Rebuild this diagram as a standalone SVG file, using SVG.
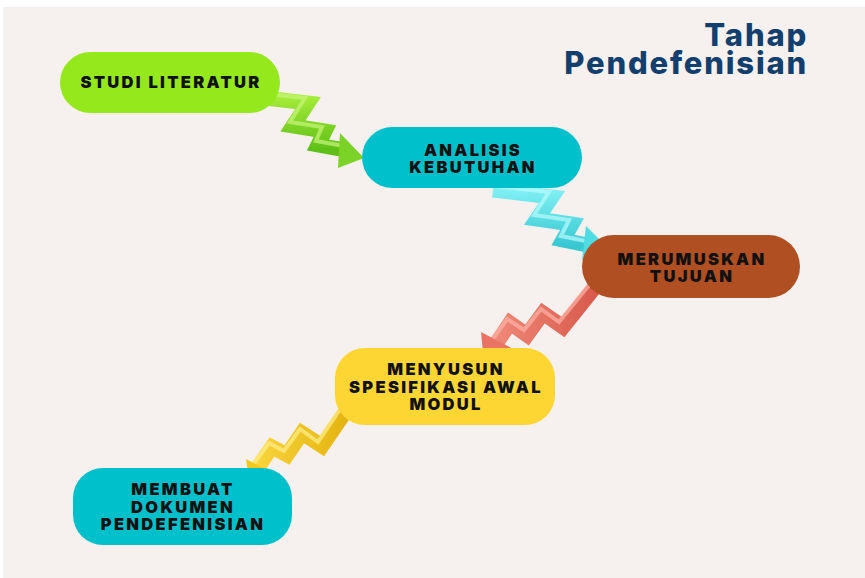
<svg xmlns="http://www.w3.org/2000/svg" width="865" height="578" viewBox="0 0 865 578">
<style>
.lbl{font-family:Inter,"Open Sans","Liberation Sans",sans-serif;font-weight:900;font-size:16.5px;letter-spacing:2.3px;fill:#111;text-anchor:middle}
.title{font-family:Inter,"Open Sans","Liberation Sans",sans-serif;font-weight:800;font-size:31px;letter-spacing:1.8px;fill:#123f6d;text-anchor:end}
.band{fill:none;stroke-width:15;stroke-linejoin:miter;stroke-linecap:butt}
.hl{fill:none;stroke-width:4;stroke-linejoin:miter;opacity:0.7}
</style>
<defs>
<linearGradient id="gG" x1="0" y1="0" x2="0" y2="1"><stop offset="0" stop-color="#a6ec3a"/><stop offset="1" stop-color="#5fbf17"/></linearGradient>
<linearGradient id="gC" x1="0" y1="0" x2="0" y2="1"><stop offset="0" stop-color="#7ff0f3"/><stop offset="1" stop-color="#38c8d2"/></linearGradient>
<linearGradient id="gR" x1="0" y1="0" x2="1" y2="0"><stop offset="0" stop-color="#f08a7a"/><stop offset="1" stop-color="#d85a4c"/></linearGradient>
<linearGradient id="gY" x1="0" y1="0" x2="1" y2="0"><stop offset="0" stop-color="#f9d43c"/><stop offset="1" stop-color="#e3b410"/></linearGradient>
</defs>
<rect x="0" y="0" width="865" height="578" fill="#ffffff"/>
<rect x="3" y="7" width="862" height="571" fill="#f6f1ee"/>

<g id="title">
<text class="title" x="808" y="46">Tahap</text>
<text class="title" x="808" y="74">Pendefenisian</text>
</g>

<g id="connectors">
<g id="arrow1">
<polyline class="band" stroke="url(#gG)" points="247,96 308,103 293,126 325,131 318,145 345,150"/>
<polyline class="hl" stroke="#c8f57a" points="249,92 305,98 290,122 322,127 316,141 344,146"/>
<polygon points="340,133 364,158 338,168" fill="#7ad326"/>
</g>
<g id="arrow2">
<polyline class="band" stroke="url(#gC)" points="493,190 552,197 537,219 572,224 563,240 592,246"/>
<polyline class="hl" stroke="#b8fbfc" points="495,186 549,192 534,215 569,220 561,236 591,242"/>
<polygon points="586,226 609,249 582,260" fill="#4fdbe2"/>
</g>
<g id="arrow3">
<polyline class="band" stroke="url(#gR)" points="595,287 563,327 543,313 527,335 510,323 492,350"/>
<polyline class="hl" stroke="#ffb3a6" points="590,284 559,322 541,309 524,330 507,319 488,346"/>
<polygon points="481,332 519,352 484,364" fill="#ea7464"/>
</g>
<g id="arrow4">
<polyline class="band" stroke="url(#gY)" points="348,408 322,446 302,433 287,455 272,447 256,470"/>
<polyline class="hl" stroke="#fff08a" points="343,405 318,442 300,429 284,451 269,443 252,466"/>
<polygon points="246,459 280,477 250,486" fill="#f1c81f"/>
</g>
</g>

<g id="n1">
<rect x="60" y="52" width="220" height="61" rx="30.5" fill="#95e81c"/>
<text class="lbl" x="171" y="88">STUDI LITERATUR</text>
</g>
<g id="n2">
<rect x="362" y="127" width="220" height="61" rx="30.5" fill="#00c1cb"/>
<text class="lbl" x="473" y="156">ANALISIS</text>
<text class="lbl" x="473" y="173">KEBUTUHAN</text>
</g>
<g id="n3">
<rect x="582" y="235" width="218" height="63" rx="31.5" fill="#b04f22"/>
<text class="lbl" x="692" y="265">MERUMUSKAN</text>
<text class="lbl" x="692" y="282">TUJUAN</text>
</g>
<g id="n4">
<rect x="335" y="348" width="220" height="77" rx="30" fill="#fdd633"/>
<text class="lbl" x="446" y="375">MENYUSUN</text>
<text class="lbl" x="446" y="393">SPESIFIKASI AWAL</text>
<text class="lbl" x="446" y="410">MODUL</text>
</g>
<g id="n5">
<rect x="73" y="468" width="219" height="77" rx="30" fill="#00c1cb"/>
<text class="lbl" x="183" y="495">MEMBUAT</text>
<text class="lbl" x="183" y="513">DOKUMEN</text>
<text class="lbl" x="183" y="530">PENDEFENISIAN</text>
</g>
</svg>
